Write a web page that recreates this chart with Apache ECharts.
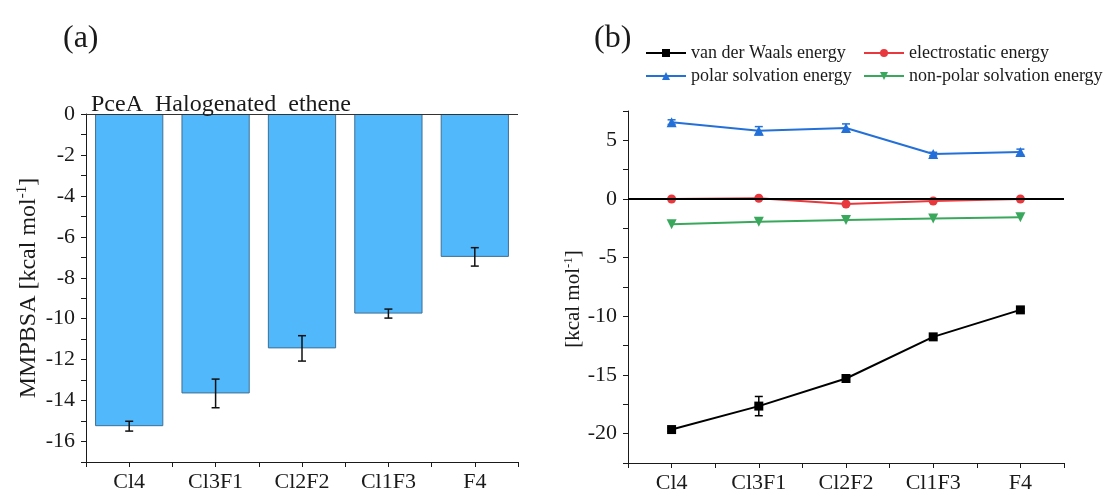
<!DOCTYPE html>
<html>
<head>
<meta charset="UTF-8">
<title>MMPBSA energy</title>
<script type="text/javascript" src="https://cdn.jsdelivr.net/npm/echarts@6/dist/echarts.min.js"></script>
<style>
  html, body { margin: 0; padding: 0; background: #fff; }
  #main { width: 1107px; height: 496px; }
</style>
</head>
<body>
<div id="main"></div>
<script type="text/javascript">
	// categories and values
	var categories = ['Cl4', 'Cl3F1', 'Cl2F2', 'Cl1F3', 'F4'];
	var mmpbsa = [-15.25, -13.65, -11.45, -9.75, -6.98];
	var mmpbsaErr = [0.24, 0.7, 0.62, 0.22, 0.45];

	var vdw = [-19.65, -17.65, -15.3, -11.75, -9.45];
	var vdwErr = [0.15, 0.82, 0.25, 0.15, 0.15];
	var elec = [0.0, 0.06, -0.43, -0.17, 0.0];
	var polar = [6.55, 5.82, 6.05, 3.83, 4.0];
	var polarErr = [0.2, 0.35, 0.35, 0.15, 0.25];
	var nonpolar = [-2.16, -1.93, -1.79, -1.67, -1.56];

	var FONT = 'Liberation Serif';
	var INK = '#1a1a1a';

	// [index, low, high] rows for the error bar series
	function errRows(vals, errs){
		return vals.map(function(v, i){ return [i, v - errs[i], v + errs[i]]; });
	}

	function errorSeries(vals, errs, xi, yi, color, z){
		return {
			type: 'custom',
			xAxisIndex: xi,
			yAxisIndex: yi,
			z: z || 5,
			silent: true,
			data: errRows(vals, errs),
			encode: { x: 0, y: [1, 2] },
			renderItem: function(params, api){
				var x = api.value(0);
				var lo = api.coord([x, api.value(1)]);
				var hi = api.coord([x, api.value(2)]);
				var w = 4;
				var st = { stroke: color, lineWidth: 1.5 };
				return {
					type: 'group',
					children: [
						{ type: 'line', shape: { x1: lo[0], y1: lo[1], x2: hi[0], y2: hi[1] }, style: st },
						{ type: 'line', shape: { x1: lo[0] - w, y1: lo[1], x2: lo[0] + w, y2: lo[1] }, style: st },
						{ type: 'line', shape: { x1: hi[0] - w, y1: hi[1], x2: hi[0] + w, y2: hi[1] }, style: st }
					]
				};
			}
		};
	}

	function catAxis(gi, showLabel){
		return {
			type: 'category',
			gridIndex: gi,
			position: 'bottom',
			data: categories,
			boundaryGap: true,
			axisLine: { show: showLabel, onZero: false, lineStyle: { color: INK, width: 1 } },
			axisTick: { show: true, alignWithLabel: showLabel, length: 5, inside: false, lineStyle: { color: INK } },
			axisLabel: { show: showLabel, margin: 9, fontFamily: FONT, fontSize: 22, color: INK },
			splitLine: { show: false }
		};
	}

	function hiddenY(gi, mn, mx){
		return { type: 'value', gridIndex: gi, min: mn, max: mx, show: false };
	}

	var legendText = { fontFamily: FONT, fontSize: 18, color: INK };
	function legendAt(name, left, top){
		return {
			data: [name], left: left, top: top, padding: 0,
			itemWidth: 40, itemHeight: 10, itemGap: 0,
			textStyle: legendText, selectedMode: false
		};
	}

	var myChart = echarts.init(document.getElementById('main'), null, { renderer: 'canvas' });
	var option = {
		backgroundColor: '#fff',
		animation: false,
		title: [
			{ text: '(a)', left: 58, top: 18, textStyle: { fontFamily: FONT, fontSize: 32, fontWeight: 'normal', color: INK } },
			{ text: '(b)', left: 589, top: 18, textStyle: { fontFamily: FONT, fontSize: 32, fontWeight: 'normal', color: INK } },
			{ text: 'PceA  Halogenated  ethene', left: 86, top: 88, textStyle: { fontFamily: FONT, fontSize: 24, fontWeight: 'normal', color: INK } }
		],
		legend: [
			legendAt('van der Waals energy', 645, 44),
			legendAt('electrostatic energy', 863, 44),
			legendAt('polar solvation energy', 645, 67),
			legendAt('non-polar solvation energy', 863, 67)
		],
		grid: [
			{ left: 86, top: 114, width: 432, height: 348 },
			{ left: 86, top: 114, width: 432, height: 348 },
			{ left: 628, top: 111, width: 436, height: 352 },
			{ left: 628, top: 111, width: 436, height: 352 }
		],
		xAxis: [
			catAxis(0, true),
			catAxis(1, false),
			catAxis(2, true),
			catAxis(3, false)
		],
		yAxis: [
			{
				type: 'value', gridIndex: 0, min: -17, max: 0, interval: 1,
				name: '{n|MMPBSA [kcal mol}{s|-1}{n|]}',
				nameLocation: 'middle', nameGap: 44, nameRotate: 90,
				nameTextStyle: {
					rich: {
						n: { fontFamily: FONT, fontSize: 24, color: INK },
						s: { fontFamily: FONT, fontSize: 15, color: INK, padding: [0, 0, 12, 0] }
					}
				},
				axisLine: { show: true, onZero: false, lineStyle: { color: INK } },
				axisTick: { show: true, length: 5, lineStyle: { color: INK } },
				axisLabel: {
					margin: 11, fontFamily: FONT, fontSize: 22, color: INK,
					formatter: function(v){ return v % 2 === 0 ? String(v) : ''; }
				},
				splitLine: { show: false }
			},
			hiddenY(1, -17, 0),
			{
				type: 'value', gridIndex: 2, min: -22.5, max: 7.5, interval: 2.5,
				name: '{n|[kcal mol}{s|-1}{n|]}',
				nameLocation: 'middle', nameGap: 38, nameRotate: 90,
				nameTextStyle: {
					padding: [0, 24, 0, 0],
					rich: {
						n: { fontFamily: FONT, fontSize: 21, color: INK },
						s: { fontFamily: FONT, fontSize: 13, color: INK, padding: [0, 0, 10, 0] }
					}
				},
				axisLine: { show: true, onZero: false, lineStyle: { color: INK } },
				axisTick: { show: true, length: 5, lineStyle: { color: INK } },
				axisLabel: {
					margin: 11, fontFamily: FONT, fontSize: 22, color: INK,
					formatter: function(v){ return v % 5 === 0 ? String(v) : ''; }
				},
				splitLine: { show: false }
			},
			hiddenY(3, -22.5, 7.5)
		],
		series: [
			{
				name: 'MMPBSA',
				type: 'bar',
				xAxisIndex: 0, yAxisIndex: 0,
				barWidth: '79%',
				data: mmpbsa,
				itemStyle: { color: '#52b8fc', borderColor: '#3f6f93', borderWidth: 1 },
				markLine: {
					silent: true, symbol: 'none', label: { show: false },
					lineStyle: { color: '#333', width: 1, type: 'solid' },
					data: [{ yAxis: 0 }]
				}
			},
			errorSeries(mmpbsa, mmpbsaErr, 0, 0, '#111', 6),
			{
				name: 'van der Waals energy', type: 'line', xAxisIndex: 2, yAxisIndex: 2,
				data: vdw, color: '#000', symbol: 'rect', symbolSize: 9,
				lineStyle: { width: 2 }, z: 4,
				markLine: {
					silent: true, symbol: 'none', label: { show: false },
					lineStyle: { color: '#000', width: 2, type: 'solid' },
					data: [{ yAxis: 0 }]
				}
			},
			{
				name: 'electrostatic energy', type: 'line', xAxisIndex: 2, yAxisIndex: 2,
				data: elec, color: '#e8383d', symbol: 'circle', symbolSize: 9,
				lineStyle: { width: 2 }, z: 3
			},
			{
				name: 'polar solvation energy', type: 'line', xAxisIndex: 2, yAxisIndex: 2,
				data: polar, color: '#2370d8', symbol: 'triangle', symbolSize: 10,
				lineStyle: { width: 2 }, z: 3
			},
			{
				name: 'non-polar solvation energy', type: 'line', xAxisIndex: 2, yAxisIndex: 2,
				data: nonpolar, color: '#3aa85c', symbol: 'triangle', symbolRotate: 180, symbolSize: 10,
				lineStyle: { width: 2 }, z: 3
			},
			errorSeries(vdw, vdwErr, 2, 2, '#000', 6),
			errorSeries(polar, polarErr, 2, 2, '#2370d8', 6)
		]
	};
	myChart.setOption(option);
</script>
</body>
</html>
